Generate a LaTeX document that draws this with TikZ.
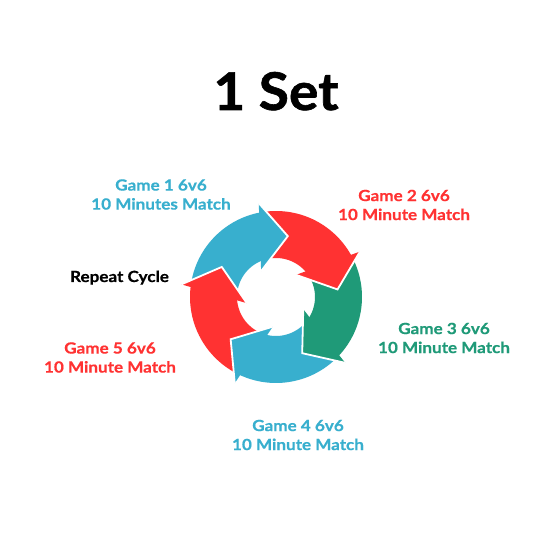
\documentclass[tikz,border=0pt]{standalone}
\usepackage{fontspec}
\setmainfont{Lato}
\newfontfamily\lblfont{Lato}[FakeStretch=1.11,FakeBold=0.6]
\newfontfamily\ttlfont{Lato}[FakeStretch=1.06,FakeBold=1.2]
\usepackage{xcolor}
\usepackage{tikz}
\usetikzlibrary{calc}

\definecolor{cycblue}{RGB}{56,175,206}
\definecolor{cycred}{RGB}{255,50,50}
\definecolor{cycgreen}{RGB}{31,154,120}

\begin{document}
\begin{tikzpicture}[x=1pt,y=1pt,
  lbl/.style={font=\lblfont\bfseries\fontsize{15.4}{19}\selectfont,align=center,inner sep=0pt}]
  \useasboundingbox (0,0) rectangle (540,540);
  \fill[white] (0,0) rectangle (540,540);
  \node[font=\ttlfont\bfseries\fontsize{52}{60}\selectfont,anchor=base,inner sep=0pt] (title) at (276,430) {1 Set};
  \begin{scope}[shift={(276,243)}]
    \foreach \t/\c in {79/cycblue,7/cycred,-65/cycgreen,-137/cycblue,151/cycred}{
      \pgfmathsetmacro{\oa}{\t+91.3}
      \pgfmathsetmacro{\ob}{\t+19.5}
      \pgfmathsetmacro{\ia}{\t+103}
      \pgfmathsetmacro{\ib}{\t+31}
      \fill[\c] (\oa:86) arc[start angle=\oa,end angle=\ob,radius=86] -- (\ib:39)
        arc[start angle=\ib,end angle=\ia,radius=39] -- cycle;
    }
    \foreach \t/\c in {79/cycblue,7/cycred,-65/cycgreen,-137/cycblue,151/cycred}{
      \coordinate (hb) at ({\t+26}:62);
      \coordinate (ht) at (\t:62);
      \coordinate (ho) at ($(hb)+({\t+13}:34)$);
      \coordinate (hi) at ($(hb)-({\t+13}:34)$);
      \fill[\c] (ho) -- (ht) -- (hi) -- cycle;
      \draw[white,line width=1.8pt] (ho) -- (ht) -- (hi);
    }
  \end{scope}
  \node[lbl,text=cycblue] (g1) at (161,345.5) {Game 1 6v6\\10 Minutes Match};
  \node[lbl,text=cycred] (g2) at (404,335) {Game 2 6v6\\10 Minute Match};
  \node[lbl,text=cycgreen] (g3) at (444,202) {Game 3 6v6\\10 Minute Match};
  \node[lbl,text=cycblue] (g4) at (298,105) {Game 4 6v6\\10 Minute Match};
  \node[lbl,text=cycred] (g5) at (110,182.5) {Game 5 6v6\\10 Minute Match};
  \node[lbl,anchor=base] (rep) at (119.5,258) {Repeat Cycle};
\end{tikzpicture}
\end{document}
